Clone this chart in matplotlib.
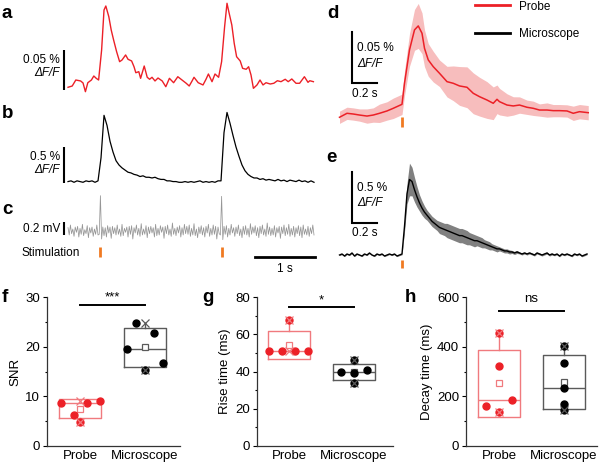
import numpy as np
import matplotlib
matplotlib.use("Agg")
import matplotlib.pyplot as plt
from matplotlib.ticker import MultipleLocator
from matplotlib.lines import Line2D

plt.rcParams['font.family'] = ['Liberation Sans', 'DejaVu Sans']

# ---------------- data ----------------
# panel a: probe trace (% dF/F) at irregular read times (s)
a_t = [0.00,0.07,0.13,0.21,0.25,0.29,0.33,0.39,0.43,0.47,
       0.51,0.56,0.60,0.63,0.68,0.72,0.76,0.81,0.86,0.90,
       0.96,1.00,1.06,1.10,1.13,1.18,1.21,1.27,1.32,1.36,
       1.40,1.45,1.50,1.57,1.63,1.69,1.76,1.83,1.90,1.97,
       2.02,2.07,2.10,2.17,2.25,2.30,2.34,2.40,2.45,2.51,
       2.56,2.61,2.65,2.68,2.73,2.77,2.81,2.87,2.91,2.97,
       3.01,3.05,3.09,3.15,3.20,3.25,3.30,3.37,3.43,3.49,
       3.55,3.62,3.67,3.73,3.80,3.86,3.94,4.00,4.03,4.09]
a_v = [0.0034,0.0050,0.0125,0.0113,0.0088,-0.0021,0.0091,0.0125,0.0175,0.0146,
       0.0125,0.0500,0.1000,0.1050,0.0916,0.0750,0.0625,0.0479,0.0354,0.0375,
       0.0438,0.0384,0.0363,0.0291,0.0216,0.0229,0.0146,0.0300,0.0159,0.0134,
       0.0159,0.0113,0.0150,0.0113,0.0041,0.0146,0.0091,0.0166,0.0125,0.0084,
       0.0050,0.0116,0.0159,0.0091,0.0063,0.0134,0.0200,0.0104,0.0200,0.0159,
       0.0354,0.0791,0.1084,0.0979,0.0813,0.0584,0.0416,0.0363,0.0271,0.0259,
       0.0291,0.0188,0.0021,0.0063,0.0125,0.0063,0.0091,0.0075,0.0084,0.0116,
       0.0104,0.0134,0.0104,0.0138,0.0084,0.0084,0.0166,0.0096,0.0116,0.0104]

# panel b: microscope trace (% dF/F), sampled every 0.05 s from 0 s
b_dt = 0.05
b_v = [0.02,0.03,0.01,0.03,0.02,0.01,0.03,0.02,0.03,0.01,0.03,
       0.35,0.94,0.80,0.58,0.43,0.31,0.25,0.21,0.18,0.15,
       0.14,0.12,0.11,0.09,0.10,0.08,0.08,0.07,0.08,0.06,
       0.05,0.05,0.03,0.03,0.02,0.02,0.01,0.01,0.02,0.01,
       0.02,0.01,0.02,0.03,0.01,0.02,0.01,0.02,0.01,0.03,0.03,
       0.70,0.98,0.83,0.66,0.50,0.37,0.25,0.17,0.12,0.09,
       0.07,0.07,0.05,0.06,0.04,0.05,0.04,0.03,0.05,0.03,
       0.04,0.02,0.04,0.03,0.02,0.04,0.02,0.03,0.01,0.03,0.01]

# panel c: electrode recording (mV), sampled every 0.02 s from 0 s
c_dt = 0.02
c_v = [0.05,-0.06,0.09,-0.04,0.03,-0.08,0.06,-0.02,0.07,-0.09,
       0.04,-0.05,0.10,-0.07,0.02,-0.04,0.08,-0.10,0.05,-0.03,
       0.06,-0.08,0.03,-0.05,0.09,-0.06,-0.05,0.53,-0.12,0.06,
       -0.07,0.05,-0.09,0.08,-0.03,0.06,-0.11,0.07,-0.04,0.05,
       -0.06,0.09,-0.05,0.03,-0.08,0.10,-0.07,0.04,-0.02,0.06,
       -0.09,0.07,-0.05,0.08,-0.12,0.05,-0.03,0.09,-0.06,0.04,
       -0.08,0.11,-0.06,0.03,-0.05,0.08,-0.10,0.06,-0.04,0.07,
       -0.03,0.05,-0.09,0.10,-0.07,0.04,-0.06,0.08,-0.02,0.06,
       -0.11,0.07,-0.04,0.09,-0.06,0.03,-0.08,0.12,-0.05,0.04,
       -0.07,0.06,-0.03,0.08,-0.09,0.05,-0.06,0.10,-0.04,0.07,
       -0.05,0.09,-0.08,0.04,-0.06,0.11,-0.07,0.03,-0.10,0.06,
       -0.04,0.08,-0.06,0.05,-0.09,0.07,-0.03,0.10,-0.08,0.04,
       -0.06,0.09,-0.05,0.07,-0.12,0.06,-0.04,-0.06,0.52,-0.13,
       0.07,-0.05,0.08,-0.09,0.04,-0.06,0.10,-0.03,0.05,-0.08,
       0.06,-0.04,0.09,-0.07,0.03,-0.10,0.07,-0.05,0.08,-0.06,
       0.04,-0.09,0.11,-0.05,0.06,-0.03,0.08,-0.07,0.05,-0.10,
       0.07,-0.04,0.09,-0.06,0.03,-0.08,0.12,-0.05,0.06,-0.07,
       0.04,-0.06,0.08,-0.09,0.05,-0.03,0.07,-0.11,0.06,-0.04,
       0.09,-0.07,0.05,-0.05,0.10,-0.08,0.04,-0.06,0.07,-0.09,
       0.05,-0.04,0.08,-0.07,0.06,-0.10,0.09,-0.05,0.03,-0.06,
       0.07,-0.08,0.05,-0.04,0.09,-0.06]
stim_times = [0.53, 2.57]

# panel d: averaged probe response (% dF/F) with SEM
d_t = [-0.50,-0.44,-0.39,-0.34,-0.28,-0.23,-0.18,-0.12,-0.07,0.00,
       0.02,0.06,0.10,0.13,0.16,0.18,0.21,0.25,0.30,0.36,
       0.41,0.46,0.52,0.57,0.62,0.68,0.73,0.76,0.78,0.84,
       0.89,0.94,1.00,1.05,1.10,1.16,1.21,1.26,1.32,1.37,1.42,1.49]
d_mean = [-0.0042,-0.0003,-0.0010,-0.0020,-0.0030,-0.0020,-0.0003,0.0020,0.0046,0.0085,
          0.0291,0.0618,0.0814,0.0853,0.0781,0.0634,0.0520,0.0454,0.0389,0.0307,
          0.0291,0.0265,0.0252,0.0193,0.0160,0.0127,0.0095,0.0134,0.0111,0.0078,
          0.0069,0.0078,0.0056,0.0046,0.0029,0.0029,0.0023,0.0023,0.0020,-0.0003,0.0013,0.0003]
d_sem = [0.006,0.006,0.006,0.006,0.007,0.007,0.009,0.009,0.010,0.010,
         0.012,0.016,0.020,0.022,0.020,0.018,0.016,0.015,0.013,0.015,
         0.017,0.019,0.020,0.020,0.019,0.018,0.016,0.014,0.013,0.011,
         0.009,0.008,0.007,0.007,0.006,0.007,0.006,0.006,0.006,0.007,0.007,0.007]

# panel e: averaged microscope response (% dF/F) with SEM, every 0.02 s from -0.5 s
e_t0, e_dt = -0.50, 0.02
e_mean = [0.00,0.01,-0.01,0.01,0.00,0.02,-0.01,0.01,0.00,-0.01,0.01,0.00,0.02,
          0.00,-0.01,0.01,0.00,0.01,-0.01,0.00,0.01,0.00,0.01,-0.01,0.00,0.01,
          0.28,0.60,0.74,0.72,0.64,0.57,0.51,0.46,0.42,0.39,
          0.36,0.33,0.31,0.29,0.27,0.26,0.25,0.24,0.23,0.22,
          0.21,0.20,0.19,0.19,0.18,0.17,0.16,0.15,0.14,0.14,
          0.13,0.12,0.11,0.10,0.09,0.08,0.07,0.06,0.06,0.05,
          0.04,0.04,0.03,0.03,0.02,0.03,0.02,0.01,0.02,0.01,
          0.02,0.01,0.00,0.02,0.01,0.00,0.01,0.02,0.00,0.01,
          0.00,0.01,-0.01,0.01,0.00,0.01,0.00,-0.01,0.01,0.00,
          0.01,-0.01,0.00,0.01]
e_sem = [0.006,0.006,0.006,0.006,0.006,0.006,0.006,0.006,0.006,0.006,0.006,0.006,0.006,
         0.006,0.006,0.006,0.006,0.006,0.006,0.006,0.006,0.006,0.006,0.006,0.006,0.008,
         0.05,0.10,0.16,0.14,0.12,0.10,0.08,0.07,0.06,0.05,
         0.05,0.05,0.05,0.05,0.06,0.06,0.06,0.07,0.07,0.07,
         0.07,0.07,0.07,0.07,0.07,0.07,0.06,0.06,0.06,0.05,
         0.05,0.05,0.04,0.04,0.04,0.03,0.03,0.03,0.02,0.02,
         0.02,0.02,0.02,0.015,0.015,0.015,0.01,0.01,0.01,0.01,
         0.01,0.01,0.01,0.01,0.01,0.01,0.01,0.01,0.01,0.01,
         0.008,0.008,0.008,0.008,0.008,0.008,0.008,0.008,0.008,0.008,
         0.008,0.008,0.008,0.008]

# panels f-h: per-animal values
categories = ['Probe', 'Microscope']
snr_probe = [8.6, 6.3, 4.8, 8.7, 9.1]
snr_micro = [19.6, 24.7, 15.4, 22.7, 16.8]
rise_probe = [50.9, 50.9, 67.8, 50.9, 50.9]
rise_micro = [39.9, 46.0, 39.0, 40.8, 34.0]
decay_probe = [162, 457, 322, 187, 135]
decay_micro = [403, 333, 235, 169, 144]
sig_labels = ['***', '*', 'ns']

# ---------------- styling / layout ----------------
RED = '#ec2027'
RED_BOX = '#f07a7e'
GRAY_BOX = '#5a5a5a'
ORANGE = '#f07a22'
TXT = 8.5
W, H = 600, 463
fig = plt.figure(figsize=(6, 4.63), dpi=100)


def axes_px(x0, y0, x1, y1):
    return fig.add_axes([x0 / W, 1 - y1 / H, (x1 - x0) / W, (y1 - y0) / H])


def ftext(x, y, s, **kw):
    kw.setdefault('fontsize', TXT)
    fig.text(x / W, 1 - y / H, s, **kw)


def scalebar_v(ax, x, y0, length, lw=1.5):
    ax.plot([x, x], [y0, y0 + length], color='black', lw=lw, clip_on=False,
            solid_capstyle='butt')


# ---- a, b, c ----
ax_a = axes_px(40, 0, 320, 95)
ax_b = axes_px(40, 100, 320, 190)
ax_c = axes_px(40, 190, 320, 275)
for ax in (ax_a, ax_b, ax_c):
    ax.set_xlim(-0.467, 4.2)
    ax.axis('off')
ax_a.set_ylim(-0.00625, 0.1125)
ax_b.set_ylim(-0.097, 1.153)
ax_c.set_ylim(-0.66, 0.615)

ax_a.plot(a_t, a_v, color=RED, lw=1.0)
b_t = np.arange(len(b_v)) * b_dt
ax_b.plot(b_t, b_v, color='black', lw=0.9)
c_t = np.arange(len(c_v)) * c_dt
ax_c.plot(c_t, c_v, color='#969696', lw=0.55)
ax_c.vlines(stim_times, -0.39, -0.24, color=ORANGE, lw=2)

scalebar_v(ax_a, -0.067, 0, 0.05)
scalebar_v(ax_b, -0.067, 0, 0.5)
scalebar_v(ax_c, -0.067, -0.06, 0.2)
ax_c.plot([3.12, 4.12], [-0.39, -0.39], color='black', lw=2, clip_on=False)
ax_c.text(3.62, -0.57, '1 s', ha='center', va='center', fontsize=TXT)

ftext(60, 60, '0.05 %', ha='right', va='center')
ftext(60, 73, 'ΔF/F', ha='right', va='center', style='italic')
ftext(60, 157, '0.5 %', ha='right', va='center')
ftext(60, 170, 'ΔF/F', ha='right', va='center', style='italic')
ftext(60, 229, '0.2 mV', ha='right', va='center')
ftext(21, 253, 'Stimulation', ha='left', va='center')

# ---- d, e ----
ax_d = axes_px(335, 0, 595, 130)
ax_e = axes_px(335, 150, 595, 275)
for ax in (ax_d, ax_e):
    ax.set_xlim(-0.536, 1.544)
    ax.axis('off')
ax_d.set_ylim(-0.01666, 0.1107)
ax_e.set_ylim(-0.196, 1.029)

dm = np.array(d_mean); ds = np.array(d_sem)
ax_d.fill_between(d_t, dm - ds, dm + ds, color='#f7bdbd', lw=0)
ax_d.plot(d_t, dm, color=RED, lw=1.1)
ax_d.vlines([0], -0.0137, -0.0039, color=ORANGE, lw=2)

e_t = e_t0 + np.arange(len(e_mean)) * e_dt
em = np.array(e_mean); es = np.array(e_sem)
ax_e.fill_between(e_t, em - es, em + es, color='#808080', lw=0)
ax_e.plot(e_t, em, color='black', lw=1.0)
ax_e.vlines([0], -0.127, -0.049, color=ORANGE, lw=2)

for ax, y0, L in ((ax_d, 0.0294, 0.05), (ax_e, 0.314, 0.5)):
    ax.plot([-0.4, -0.4, -0.2], [y0 + L, y0, y0], color='black', lw=1.5,
            clip_on=False, solid_joinstyle='miter')

ftext(357, 48, '0.05 %', ha='left', va='center')
ftext(357, 64, 'ΔF/F', ha='left', va='center', style='italic')
ftext(352, 94, '0.2 s', ha='left', va='center')
ftext(357, 188, '0.5 %', ha='left', va='center')
ftext(357, 203, 'ΔF/F', ha='left', va='center', style='italic')
ftext(352, 233, '0.2 s', ha='left', va='center')

handles = [Line2D([], [], color=RED, lw=2.0), Line2D([], [], color='black', lw=2.0)]
fig.legend(handles, categories, loc='upper left', bbox_to_anchor=(475 / W, 1 - 0.5 / H),
           frameon=False, fontsize=TXT, handlelength=3.0, handletextpad=0.75,
           labelspacing=1.35, borderpad=0, borderaxespad=0)


# ---- f, g, h ----
def box_panel(ax, probe, micro, ylim, major, minor, ylabel, sig, sig_y, sig_ty,
              offs_p, offs_m):
    for pos, vals, offs, col, bcol in ((1, probe, offs_p, RED, RED_BOX),
                                       (2, micro, offs_m, 'black', GRAY_BOX)):
        v = np.asarray(vals, dtype=float)
        m = v.mean(); sd = v.std(ddof=1)
        stats = dict(med=np.median(v), q1=m - sd, q3=m + sd,
                     whislo=min(v.min(), m - sd), whishi=max(v.max(), m + sd),
                     mean=m, fliers=[])
        ax.bxp([stats], positions=[pos], widths=0.66, showmeans=True,
               showcaps=False, showfliers=False,
               boxprops=dict(color=bcol, lw=1.0),
               medianprops=dict(color=bcol, lw=1.0),
               whiskerprops=dict(color=bcol, lw=1.0),
               meanprops=dict(marker='s', mfc='white', mec=bcol, ms=5, mew=0.9))
        ax.plot(pos + np.asarray(offs), v, 'o', color=col, ms=5, zorder=4,
                clip_on=False)
        ax.plot([pos, pos], [v.min(), v.max()], 'x', color=bcol, ms=5.5, mew=0.9,
                zorder=5, linestyle='none')
    ax.plot([1, 2], [sig_y, sig_y], color='black', lw=1.4)
    ax.text(1.5, sig_ty, sig, ha='center', va='center', fontsize=9.5)
    ax.set_ylim(*ylim)
    ax.yaxis.set_major_locator(MultipleLocator(major))
    ax.yaxis.set_minor_locator(MultipleLocator(minor))
    ax.set_xticks([1, 2])
    ax.set_xticklabels(categories, fontsize=9.5)
    ax.tick_params(axis='x', length=0, pad=3)
    ax.tick_params(axis='y', which='major', length=3, width=0.8, labelsize=9.5, pad=2)
    ax.tick_params(axis='y', which='minor', length=1.8, width=0.8)
    for s in ('top', 'right'):
        ax.spines[s].set_visible(False)
    for s in ('left', 'bottom'):
        ax.spines[s].set_linewidth(0.9)
        ax.spines[s].set_color('#333333')
    ax.set_ylabel(ylabel, fontsize=9.5, labelpad=3)


ax_f = axes_px(47, 297, 180, 446)
box_panel(ax_f, snr_probe, snr_micro, (0, 30), 10, 5, 'SNR', sig_labels[0], 28.3, 29.9,
          [-0.3, -0.1, 0, 0.1, 0.3], [-0.27, -0.14, 0, 0.14, 0.27])
ax_f.set_xlim(0.492, 2.538)

ax_g = axes_px(257, 297, 393, 446)
box_panel(ax_g, rise_probe, rise_micro, (0, 80), 20, 10, 'Rise time (ms)', sig_labels[1],
          74.4, 78.0, [-0.3, -0.1, 0, 0.1, 0.3], [-0.2, 0, 0, 0.2, 0])
ax_g.set_xlim(0.508, 2.6)

ax_h = axes_px(466, 297, 597, 446)
box_panel(ax_h, decay_probe, decay_micro, (0, 600), 200, 100, 'Decay time (ms)',
          sig_labels[2], 545, 590, [-0.2, 0, 0, 0.2, 0], [0, 0, 0, 0, 0])
ax_h.set_xlim(0.492, 2.508)

# panel letters
for s, x, y in (('a', 2, 13), ('b', 2, 114), ('c', 2, 210), ('d', 327, 14),
                ('e', 326, 157), ('f', 2, 298), ('g', 202, 298), ('h', 405, 298)):
    ftext(x, y, s, ha='left', va='center', fontsize=13.5, fontweight='bold')

fig.savefig('out.png', dpi=100)
